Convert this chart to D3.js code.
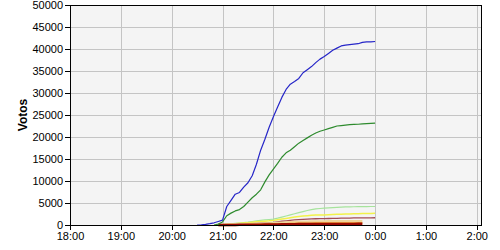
<!DOCTYPE html>
<html>
<head>
  <meta charset="utf-8">
  <title>Votos</title>
  <style>
    body { margin: 0; background: #fff; }
    svg { display: block; font-family: "Liberation Sans", Arial, sans-serif; }
    .grid line { stroke: #c4c4c4; stroke-width: 1; shape-rendering: crispEdges; }
    .axis path, .axis line { stroke: #000; shape-rendering: crispEdges; }
    .axis text { font-size: 11px; fill: #000; }
    .line { fill: none; stroke-linejoin: round; }
  </style>
</head>
<body>
<svg width="500" height="250"></svg>
<script src="https://cdn.jsdelivr.net/npm/d3@7"></script>
<script>
  // sample times, every 5 minutes from 20:30 to 0:00
  var times = ["20:30","20:35","20:40","20:45","20:50","20:55","21:00","21:05","21:10","21:15",
               "21:20","21:25","21:30","21:35","21:40","21:45","21:50","21:55","22:00","22:05",
               "22:10","22:15","22:20","22:25","22:30","22:35","22:40","22:45","22:50","22:55",
               "23:00","23:05","23:10","23:15","23:20","23:25","23:30","23:35","23:40","23:45",
               "23:50","23:55","0:00"];

  var blue = [0,50,150,300,500,800,1100,4200,5600,7000,
              7400,8600,9600,11200,13800,17000,19500,22200,24600,26800,
              29000,30800,32000,32600,33300,34600,35300,36000,36900,37700,
              38300,39000,39700,40200,40700,40900,41000,41100,41200,41500,
              41600,41600,41700];

  var green = [null,null,null,null,0,200,700,2100,2700,3200,
               3500,4200,5200,6200,7000,8000,9800,11400,12700,14000,
               15400,16400,17000,17800,18600,19200,19800,20400,20900,21300,
               21600,21900,22200,22500,22600,22700,22800,22850,22900,23000,
               23050,23100,23150];

  var lightGreen = [null,null,null,null,null,0,100,150,250,350,
                    450,550,650,800,950,1050,1150,1250,1350,1550,
                    1800,2050,2300,2550,2800,3050,3300,3500,3650,3750,
                    3850,3900,3950,4000,4050,4100,4120,4150,4170,4180,
                    4190,4200,4200];

  var yellow = [null,null,null,null,null,0,80,150,220,300,
                370,450,530,620,720,800,880,950,1050,1200,
                1350,1500,1650,1800,1920,2030,2120,2200,2250,2280,
                2300,2350,2400,2430,2460,2490,2520,2550,2580,2600,
                2620,2640,2650];

  var brown = [null,null,null,null,null,0,30,60,90,120,
               160,200,250,300,360,420,480,540,600,720,
               850,960,1060,1150,1230,1300,1350,1390,1420,1440,
               1450,1480,1500,1520,1540,1560,1580,1600,1610,1620,
               1630,1640,1650];

  var tan = [null,null,null,null,null,0,20,40,60,80,
             100,120,150,180,210,250,280,310,350,400,
             450,500,550,600,640,680,700,720,740,750,
             760,770,780,790,795,800,800,805,810,810,
             null,null,null];

  var orange = [null,null,null,null,null,0,10,20,35,50,
                65,80,100,120,140,160,180,200,220,250,
                280,310,340,360,380,400,410,420,430,440,
                445,450,455,460,460,465,465,470,470,470,
                null,null,null];

  var darkRed = [null,null,null,null,null,0,5,10,15,20,
                 30,40,50,60,70,80,90,100,110,130,
                 150,165,180,190,200,210,215,220,225,228,
                 230,235,240,245,248,250,252,255,258,260,
                 null,null,null];

  var yTicks = [0,5000,10000,15000,20000,25000,30000,35000,40000,45000,50000];

  var series = [
    {name: "lightGreen", values: lightGreen, color: "#a6e39c", width: 1.2},
    {name: "yellow", values: yellow, color: "#f2f24a", width: 1.5},
    {name: "brown", values: brown, color: "#a24d55", width: 1.3},
    {name: "tan", values: tan, color: "#f0d49a", width: 3},
    {name: "orange", values: orange, color: "#f39a2a", width: 1.5},
    {name: "darkRed", values: darkRed, color: "#9a0a00", width: 2.5},
    {name: "green", values: green, color: "#2e8b2e", width: 1.2},
    {name: "blue", values: blue, color: "#2626c8", width: 1.2}
  ];

  var svg = d3.select("svg"),
      margin = {top: 5, right: 19, bottom: 25, left: 70},
      width = 500 - margin.left - margin.right,
      height = 250 - margin.top - margin.bottom,
      g = svg.append("g").attr("transform", "translate(" + margin.left + "," + margin.top + ")");

  function toDate(s) {
    var p = s.split(":"), h = +p[0], m = +p[1];
    // hours before 18 belong to the next day
    return new Date(2011, 4, h < 18 ? 23 : 22, h, m);
  }

  var x = d3.scaleTime()
      .domain([new Date(2011, 4, 22, 18, 0), new Date(2011, 4, 23, 2, 5)])
      .range([0, width]);

  var y = d3.scaleLinear().domain([0, 50000]).range([height, 0]);

  var hourTicks = d3.timeHour.range(new Date(2011, 4, 22, 18, 0), new Date(2011, 4, 23, 2, 1));

  g.append("rect")
      .attr("width", width)
      .attr("height", height)
      .attr("fill", "#f4f4f4");

  // grid
  g.append("g")
      .attr("class", "grid")
      .selectAll("line")
      .data(hourTicks.slice(1))
      .enter().append("line")
        .attr("x1", function(d) { return Math.round(x(d)) + 0.5; })
        .attr("x2", function(d) { return Math.round(x(d)) + 0.5; })
        .attr("y1", 0)
        .attr("y2", height);

  g.append("g")
      .attr("class", "grid")
      .selectAll("line")
      .data(yTicks.slice(1, -1))
      .enter().append("line")
        .attr("x1", 0)
        .attr("x2", width)
        .attr("y1", function(d) { return Math.round(y(d)) + 0.5; })
        .attr("y2", function(d) { return Math.round(y(d)) + 0.5; });

  var line = d3.line()
      .defined(function(d) { return d.v != null; })
      .x(function(d) { return x(d.t); })
      .y(function(d) { return y(d.v); });

  g.selectAll(".line")
    .data(series)
    .enter().append("path")
      .attr("class", "line")
      .attr("stroke", function(s) { return s.color; })
      .attr("stroke-width", function(s) { return s.width; })
      .attr("d", function(s) {
        return line(times.map(function(t, i) { return {t: toDate(t), v: s.values[i]}; }));
      });

  // frame
  g.append("rect")
      .attr("x", 0.5)
      .attr("y", 0.5)
      .attr("width", width)
      .attr("height", height)
      .attr("fill", "none")
      .attr("stroke", "#000")
      .attr("shape-rendering", "crispEdges");

  g.append("g")
      .attr("class", "axis axis--x")
      .attr("transform", "translate(0," + height + ")")
      .call(d3.axisBottom(x).tickValues(hourTicks).tickFormat(d3.timeFormat("%-H:%M")).tickSize(5).tickPadding(2))
      .call(function(a) { a.select(".domain").remove(); });

  g.append("g")
      .attr("class", "axis axis--y")
      .call(d3.axisLeft(y).tickValues(yTicks).tickFormat(d3.format("d")).tickSize(5).tickPadding(2))
      .call(function(a) { a.select(".domain").remove(); });

  svg.append("text")
      .attr("transform", "translate(27," + (margin.top + height / 2) + ") rotate(-90)")
      .attr("text-anchor", "middle")
      .style("font-size", "12px")
      .style("font-weight", "bold")
      .text("Votos");
</script>
</body>
</html>
